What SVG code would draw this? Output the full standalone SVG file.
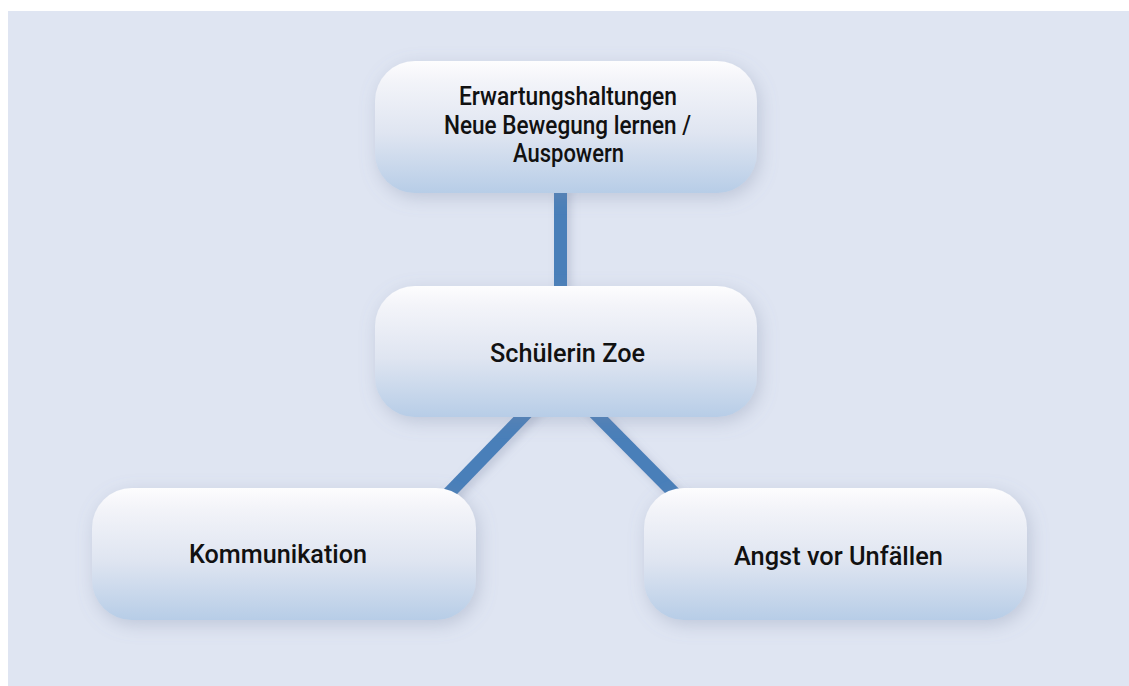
<svg xmlns="http://www.w3.org/2000/svg" width="1129" height="686" viewBox="0 0 1129 686">
  <defs>
    <linearGradient id="nodeFill" x1="0" y1="0" x2="0" y2="1">
      <stop offset="0" stop-color="#fdfdfe"/>
      <stop offset="0.15" stop-color="#f3f4f9"/>
      <stop offset="0.55" stop-color="#dfe5f1"/>
      <stop offset="1" stop-color="#b7cde7"/>
    </linearGradient>
    <filter id="softShadow" x="-20%" y="-30%" width="140%" height="160%">
      <feDropShadow dx="3" dy="5" stdDeviation="9" flood-color="#7d88a6" flood-opacity="0.33"/>
    </filter>
    <filter id="lineShadow" x="-30%" y="-30%" width="160%" height="160%">
      <feDropShadow dx="4" dy="4" stdDeviation="4" flood-color="#7d88a6" flood-opacity="0.3"/>
    </filter>
  </defs>
  <style>
    .node rect { fill: url(#nodeFill); filter: url(#softShadow); }
    .node text { font-family: Roboto, "Noto Sans", sans-serif; font-size: 26px; font-weight: 500; fill: #111; text-anchor: middle; }
    .edge { stroke: #4a7fb9; stroke-width: 13; fill: none; }
  </style>

  <!-- backdrop panel -->
  <rect x="8" y="11" width="1121" height="675" fill="#dfe5f2"/>

  <!-- connectors -->
  <g id="connectors" filter="url(#lineShadow)">
    <line class="edge" x1="560.5" y1="185" x2="560.5" y2="295"/>
    <line class="edge" x1="541.8" y1="397" x2="442.3" y2="500"/>
    <line class="edge" x1="579" y1="397" x2="679" y2="498"/>
  </g>

  <g id="node-erwartung" class="node">
    <rect x="375" y="61" width="382" height="132" rx="40"/>
    <text x="568" y="105" textLength="218" lengthAdjust="spacingAndGlyphs">Erwartungshaltungen</text>
    <text x="567.5" y="133.5" textLength="247" lengthAdjust="spacingAndGlyphs">Neue Bewegung lernen /</text>
    <text x="568.5" y="162" textLength="111" lengthAdjust="spacingAndGlyphs">Auspowern</text>
  </g>

  <g id="node-zoe" class="node">
    <rect x="375" y="286" width="382" height="131" rx="40"/>
    <text x="567.5" y="362" textLength="155" lengthAdjust="spacingAndGlyphs">Schülerin Zoe</text>
  </g>

  <g id="node-kommunikation" class="node">
    <rect x="92" y="488" width="384" height="132" rx="40"/>
    <text x="278" y="563" textLength="178" lengthAdjust="spacingAndGlyphs">Kommunikation</text>
  </g>

  <g id="node-angst" class="node">
    <rect x="644" y="488" width="383" height="132" rx="40"/>
    <text x="838.5" y="565" textLength="209" lengthAdjust="spacingAndGlyphs">Angst vor Unfällen</text>
  </g>
</svg>
